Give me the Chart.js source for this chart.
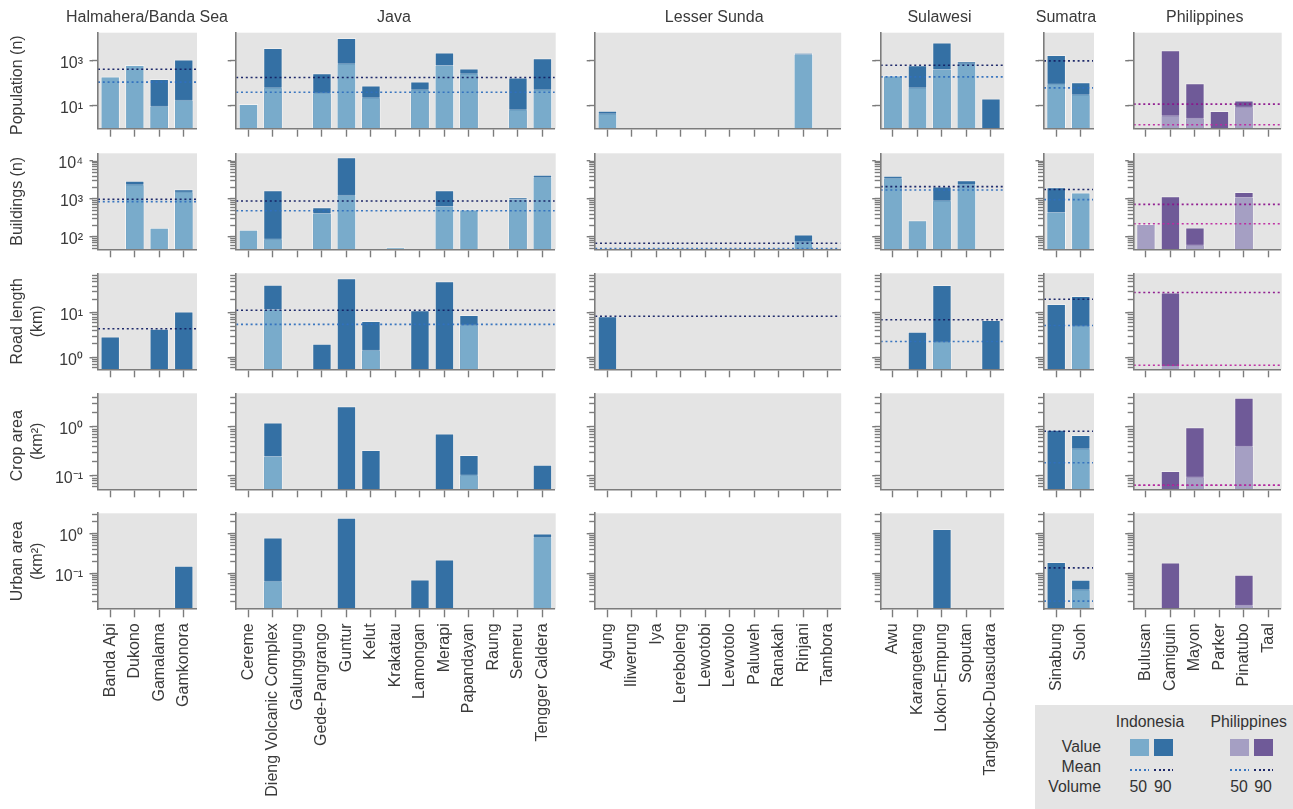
<!DOCTYPE html>
<html>
<head>
<meta charset="utf-8">
<script src="https://cdn.jsdelivr.net/npm/chart.js@4"></script>
<style>
html,body{margin:0;padding:0;background:#fff;width:1293px;height:809px;overflow:hidden;font-family:"Liberation Sans",Arial,sans-serif;color:#333}
canvas{position:absolute}
#legend{position:absolute;left:1035px;top:705px;width:258px;height:104px;background:#e4e4e4}
#legend div{position:absolute;font-size:15.8px;line-height:20px;white-space:nowrap}
#legend .c{transform:translateX(-50%)}
#legend .r{transform:translateX(-100%)}
#legend .sw{height:17px;width:19px;border:0}
#legend .dot{height:2px;width:19px}
</style>
</head>
<body>
<div id="legend"></div>
<script>
const N = null;
const regionNames = ['Halmahera/Banda Sea','Java','Lesser Sunda','Sulawesi','Sumatra','Philippines'];
const regionSizes = [4,13,10,5,2,6];
const volcanoes = [
 'Banda Api','Dukono','Gamalama','Gamkonora',
 'Cereme','Dieng Volcanic Complex','Galunggung','Gede-Pangrango','Guntur','Kelut','Krakatau','Lamongan','Merapi','Papandayan','Raung','Semeru','Tengger Caldera',
 'Agung','Iliwerung','Iya','Lereboleng','Lewotobi','Lewotolo','Paluweh','Ranakah','Rinjani','Tambora',
 'Awu','Karangetang','Lokon-Empung','Soputan','Tangkoko-Duasudara',
 'Sinabung','Suoh',
 'Bulusan','Camiguin','Mayon','Parker','Pinatubo','Taal'];

const population50 = [200,650,10,18.5, 12,67,N,39,790,24,N,55,660,283,N,7,55, 4.7,N,N,N,N,N,N,N,2040,N, 215,67,440,790,N, 98,33, N,3.8,2.9,N,9.3,N];
const population90 = [N,N,158,1150, N,3800,N,283,10500,80,N,120,2350,457,N,182,1320, 6,N,N,N,N,N,N,N,2340,N, 230,645,6700,970,21, 1850,113, N,2950,100,5.8,17,N];
const populationMean50 = [113,40,N,195,63,1.43];
const populationMean90 = [425,182,N,645,1000,11.8];

const buildings50 = [N,2450,173,1570, 153,91,N,425,1300,N,53,N,650,530,N,1000,3850, N,N,N,N,N,N,N,N,77,N, 3600,276,920,2500,N, 450,1470, 217,N,63,N,1130,N];
const buildings90 = [N,3000,N,1800, N,1700,N,600,12500,N,N,N,1700,N,N,1110,4350, N,N,N,N,N,N,N,N,116,N, 4080,N,2120,3130,N, 2040,N, N,1180,177,N,1530,N];
const buildingsMean50 = [850,490,49,1730,960,221];
const buildingsMean90 = [980,885,68,2120,1770,720];

const road50 = [N,N,N,N, N,12.3,N,N,N,1.47,N,N,N,5.5,N,N,N, N,N,N,N,N,N,N,N,N,N, N,N,2.27,N,N, N,5.2, N,0.645,N,N,N,N];
const road90 = [2.95,N,4.4,10.7, N,43,N,2,61,6.6,N,11.5,52,9,N,N,N, 8.4,N,N,N,N,N,N,N,N,N, N,3.77,42.8,N,6.9, 16,24, N,29,N,N,N,N];
const roadMean50 = [N,5.5,N,2.27,5.2,0.66];
const roadMean90 = [4.4,11.5,8.4,7,20.4,29];

const crop50 = [N,N,N,N, N,0.254,N,N,N,N,N,N,N,0.106,N,N,N, N,N,N,N,N,N,N,N,N,N, N,N,N,N,N, N,0.365, N,N,0.097,N,0.413,N];
const crop90 = [N,N,N,N, N,1.23,N,N,2.66,0.337,N,N,0.73,0.265,N,N,0.168, N,N,N,N,N,N,N,N,N,N, N,N,N,N,N, 0.88,0.685, N,0.125,0.985,N,3.94,N];
const cropMean50 = [N,N,N,N,0.185,0.064];
const cropMean90 = [N,N,N,N,0.815,0.064];

const urban50 = [N,N,N,N, N,0.067,N,N,N,N,N,N,N,N,N,N,0.82, N,N,N,N,N,N,N,N,N,N, N,N,N,N,N, N,0.041, N,N,N,N,0.0168,N];
const urban90 = [N,N,N,0.158, N,0.79,N,N,2.46,N,N,0.072,0.224,N,N,N,1.0, N,N,N,N,N,N,N,N,N,N, N,N,1.28,N,N, 0.196,0.071, N,0.188,N,N,0.094,N];
const urbanMean50 = [N,N,N,N,0.0207,N];
const urbanMean90 = [N,N,N,N,0.139,N];

const metricTitles = [['Population (n)  '],['Buildings (n)'],['Road length','(km)'],['Crop area  ','(km²)'],['Urban area','(km²)']];
const metric50 = [population50,buildings50,road50,crop50,urban50];
const metric90 = [population90,buildings90,road90,crop90,urban90];
const metricMean50 = [populationMean50,buildingsMean50,roadMean50,cropMean50,urbanMean50];
const metricMean90 = [populationMean90,buildingsMean90,roadMean90,cropMean90,urbanMean90];
const majorTicks = [[10,1000],[100,1000,10000],[1,10],[0.1,1],[0.1,1]];
const axisMin = [0.95,47,0.533,0.053,0.013];
const axisMax = [18100,16000,78.5,4.87,3.16];

// ---- layout and style ----
const plotLeft = [98,236.2,595.2,880.7,1044,1133.7];
const catW = 24.5;
const plotTop = [32.7,153.3,273.3,393.3,513.3];
const plotH = 96;
const titleShift = [0,1.5,3.5,2.5,2.5,2.5];
const textC = '#3a3a3a', spineC = '#7c7c7c', bgC = '#e4e4e4';
const indo = {light:'#79abcb',dark:'#3470a4',m50:'rgba(48,112,190,0.95)',m90:'rgba(20,32,100,0.95)'};
const phil = {light:'#a59fc3',dark:'#6f5a98',m50:'rgba(190,40,160,0.95)',m90:'rgba(140,20,140,0.95)'};
const font = '"Liberation Sans", Arial, sans-serif';
const supers = {'-1':'⁻¹','0':'⁰','1':'¹','2':'²','3':'³','4':'⁴'};

const panelPlugin = {
  id:'panel',
  beforeDraw(chart){
    const a = chart.chartArea, c = chart.ctx;
    c.save(); c.fillStyle = bgC; c.fillRect(a.left,a.top,a.right-a.left+1,a.bottom-a.top); c.restore();
  },
  afterLayout(chart){
    if (chart.options.plugins.title.display){
      const shift = chart.options.plugins.panel.shift;
      chart.titleBlock.left -= 60+shift; chart.titleBlock.right += 60-shift;
    }
  },
  afterDraw(chart){
    const s = chart.scales.y, c = chart.ctx;
    c.save(); c.strokeStyle = spineC; c.lineWidth = 1.4;
    for (const v of s.$majors){
      const y = Math.round(s.getPixelForValue(v)-0.7)+0.7;
      c.beginPath(); c.moveTo(s.right-8.5,y); c.lineTo(s.right-5,y); c.stroke();
    }
    c.restore();
  }
};

function yTicks(row){
  const maj = majorTicks[row], out = maj.map(v=>({value:v}));
  if (row>0){
    for (let e=-3;e<=5;e++) for (let m=2;m<=9;m++){
      const v = m*Math.pow(10,e);
      if (v>=axisMin[row] && v<=axisMax[row]) out.push({value:v});
    }
  }
  return out.sort((a,b)=>a.value-b.value);
}

let start = 0;
regionNames.forEach((region,col)=>{
  const n = regionSizes[col];
  const names = volcanoes.slice(start,start+n);
  const W = n*catW;
  const cols = col===5 ? phil : indo;
  metricTitles.forEach((ttl,row)=>{
    const v50 = metric50[row].slice(start,start+n);
    const v90 = metric90[row].slice(start,start+n);
    const m50 = metricMean50[row][col];
    const m90 = metricMean90[row][col];
    const cLeft = col===0 ? 0 : Math.floor(plotLeft[col]-12);
    const cTop = row===0 ? 0 : Math.floor(plotTop[row]-3);
    const cBottom = row===4 ? 809 : Math.ceil(plotTop[row]+plotH+11);
    const yW = plotLeft[col]-cLeft;
    const cW = Math.ceil(yW+W+(row===0?40:4));
    const cH = cBottom-cTop;
    const xH = cBottom-(plotTop[row]+plotH);
    const cv = document.createElement('canvas');
    cv.width = cW; cv.height = cH;
    cv.style.left = cLeft+'px'; cv.style.top = cTop+'px';
    cv.style.width = cW+'px'; cv.style.height = cH+'px';
    document.body.appendChild(cv);

    const datasets = [
      {type:'bar',data:v50,backgroundColor:cols.light,borderColor:'rgba(255,255,255,0.5)',borderWidth:1,grouped:false,order:1,barPercentage:0.79,categoryPercentage:1},
      {type:'bar',data:v90,backgroundColor:cols.dark,borderColor:'rgba(255,255,255,0.4)',borderWidth:1,grouped:false,order:2,barPercentage:0.79,categoryPercentage:1}
    ];
    const addMean = (m,color)=>{
      if (m===null) return;
      datasets.push({type:'line',data:[{x:-0.5,y:m},{x:n-0.5,y:m}],xAxisID:'x2',yAxisID:'y',borderColor:color,borderWidth:1.6,borderDash:[2,2.8],pointRadius:0,order:0,clip:false});
    };
    addMean(m50,cols.m50);
    addMean(m90,cols.m90);

    const titleH = row===0 ? 32.7 : 0;
    new Chart(cv,{
      type:'bar',
      data:{labels:names,datasets},
      plugins:[panelPlugin],
      options:{
        responsive:false,animation:false,devicePixelRatio:1,
        layout:{padding:{top:plotTop[row]-cTop-titleH,right:cW-yW-W,left:0,bottom:0}},
        plugins:{
          legend:{display:false},tooltip:{enabled:false},
          panel:{shift:titleShift[col]},
          title:{display:row===0,text:region,color:textC,fullSize:false,align:'center',
                 font:{family:font,size:16,weight:'normal',lineHeight:1.2},
                 padding:{top:8,bottom:32.7-8-16*1.2}}
        },
        scales:{
          x:{type:'category',offset:true,
             grid:{offset:false,drawOnChartArea:false,drawTicks:true,tickLength:8,tickColor:spineC,tickWidth:1.4},
             border:{display:true,color:spineC,width:1.6,z:1},
             ticks:{display:row===4,minRotation:90,maxRotation:90,autoSkip:false,padding:6,color:textC,font:{family:font,size:16}},
             afterFit(s){s.height=xH;s.paddingLeft=0;s.paddingRight=0;}},
          x2:{type:'linear',display:false,min:-0.5,max:n-0.5,offset:false,bounds:'data',grid:{offset:false}},
          y:{type:'logarithmic',min:axisMin[row],max:axisMax[row],position:'left',
             grid:{drawOnChartArea:false,drawTicks:true,tickLength:6,tickColor:spineC,tickWidth:1.4},
             border:{display:true,color:spineC,width:1.6,z:1},
             title:{display:col===0,text:ttl,color:textC,font:{family:font,size:16,lineHeight:20/16},padding:{top:7.5,bottom:0}},
             ticks:{display:col===0,autoSkip:false,padding:9,labelOffset:3,color:textC,font:{family:font,size:16},
               callback(v){
                 if (!majorTicks[row].includes(v)) return '';
                 return '10'+supers[String(Math.round(Math.log10(v)))];
               }},
             afterBuildTicks(s){s.$majors=majorTicks[row];s.ticks=yTicks(row);},
             afterFit(s){s.width=yW;s.paddingTop=0;s.paddingBottom=0;}}
        }
      }
    });
  });
  start += n;
});

// ---- legend ----
const lg = document.getElementById('legend');
const ox = 1035, oy = 705;
function lgText(t,x,y,cls){const d=document.createElement('div');d.textContent=t;d.className=cls;d.style.left=(x-ox)+'px';d.style.top=(y-oy-10)+'px';lg.appendChild(d);}
function lgBox(x,y,color,cls){const d=document.createElement('div');d.className=cls;d.style.left=(x-ox)+'px';d.style.top=(y-oy)+'px';
  if(cls==='sw')d.style.background=color;else d.style.background='repeating-linear-gradient(90deg,'+color+' 0 2px,transparent 2px 4.6px)';lg.appendChild(d);}
lgText('Indonesia',1150,722,'c');lgText('Philippines',1248.7,722,'c');
lgText('Value',1101,746.7,'r');lgText('Mean',1101,767,'r');lgText('Volume',1101,786.7,'r');
lgBox(1129.7,738.7,indo.light,'sw');lgBox(1153.7,738.7,indo.dark,'sw');
lgBox(1230.4,738.7,phil.light,'sw');lgBox(1254.4,738.7,phil.dark,'sw');
lgBox(1129.7,768.5,indo.m50,'dot');lgBox(1153.7,768.5,indo.m90,'dot');
lgBox(1230.4,768.5,indo.m50,'dot');lgBox(1254.4,768.5,indo.m90,'dot');
lgText('50',1138.3,786.7,'c');lgText('90',1162.7,786.7,'c');
lgText('50',1239,786.7,'c');lgText('90',1263,786.7,'c');
</script>
</body>
</html>
